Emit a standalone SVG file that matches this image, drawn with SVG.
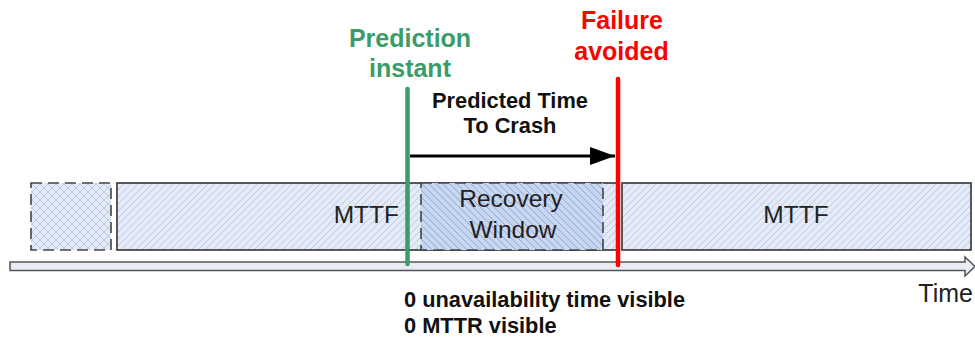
<svg xmlns="http://www.w3.org/2000/svg" width="975" height="339" viewBox="0 0 975 339">
<style>
.box{stroke:#333;stroke-width:1.6}
.mttf{fill:url(#hatchA)}
.dash{stroke:#444;stroke-width:1.6;stroke-dasharray:11 6}
.lbl{font-family:"Liberation Sans",Arial,sans-serif;font-size:24.5px;fill:#222;text-anchor:middle}
.bold{font-family:"Liberation Sans",Arial,sans-serif;font-weight:bold;font-size:21.8px;fill:#111}
.head{font-family:"Liberation Sans",Arial,sans-serif;font-weight:bold;font-size:25px;text-anchor:middle}
</style>
<defs>
<pattern id="hatchA" patternUnits="userSpaceOnUse" width="7" height="7">
<rect width="7" height="7" fill="#e5ebf6"/>
<path d="M-1,1 L1,-1 M0,7 L7,0 M6,8 L8,6" stroke="#b9cae8" stroke-width="1"/>
</pattern>
<pattern id="hatchB" patternUnits="userSpaceOnUse" width="7" height="7">
<rect width="7" height="7" fill="#c9d6ef"/>
<path d="M-1,6 L1,8 M0,0 L7,7 M6,-1 L8,1" stroke="#8ea8da" stroke-width="1"/>
</pattern>
<pattern id="hatchX" patternUnits="userSpaceOnUse" width="8" height="8">
<rect width="8" height="8" fill="#e5ebf6"/>
<path d="M0,0 L8,8 M0,8 L8,0" stroke="#b9cae8" stroke-width="1"/>
</pattern>
<marker id="arr" markerUnits="userSpaceOnUse" markerWidth="26" markerHeight="18" refX="25" refY="9" orient="auto">
<path d="M0,0 L25,9 L0,18 Z" fill="#000"/>
</marker>
</defs>

<g id="prev-window">
<rect x="31" y="183" width="80" height="67" fill="url(#hatchX)" class="dash"/>
</g>
<g id="mttf-1">
<rect x="117" y="183" width="500" height="67" class="box mttf"/>
<text x="399" y="223" class="lbl" style="text-anchor:end">MTTF</text>
</g>
<g id="recovery-window">
<rect x="421" y="183" width="182" height="67" fill="url(#hatchB)" class="dash"/>
<text x="511" y="207" class="lbl">Recovery</text>
<text x="513" y="238" class="lbl">Window</text>
</g>
<g id="mttf-2">
<rect x="622" y="183" width="349" height="67" class="box mttf"/>
<text x="796" y="223" class="lbl">MTTF</text>
</g>
<g id="time-axis">
<polygon points="10,262 965,262 965,257 975,266.5 965,276 965,270.5 10,270.5" fill="#e8edf5" stroke="#555" stroke-width="1.5" stroke-linejoin="miter"/>
<text x="973" y="302" style="font-family:'Liberation Sans',Arial,sans-serif;font-size:25px;fill:#222;text-anchor:end">Time</text>
</g>
<g id="prediction-instant">
<line x1="407.5" y1="89" x2="407.5" y2="264" stroke="#3a9c68" stroke-width="4.5" stroke-linecap="round"/>
<text x="410" y="47" class="head" fill="#3a9c68">Prediction</text>
<text x="410" y="77" class="head" fill="#3a9c68">instant</text>
</g>
<g id="failure-avoided">
<line x1="618" y1="79" x2="618" y2="265" stroke="#ff0000" stroke-width="4.5" stroke-linecap="round"/>
<text x="622" y="29" class="head" fill="#ff0000">Failure</text>
<text x="621.5" y="60" class="head" fill="#ff0000">avoided</text>
</g>
<g id="connectors">
<line x1="410" y1="156" x2="615" y2="156" stroke="#000" stroke-width="3.2" marker-end="url(#arr)"/>
<text x="510" y="108" class="bold" text-anchor="middle">Predicted Time</text>
<text x="510" y="133" class="bold" text-anchor="middle">To Crash</text>
</g>
<g id="notes">
<text x="404" y="307" class="bold">0 unavailability time visible</text>
<text x="404" y="333" class="bold">0 MTTR visible</text>
</g>
</svg>
